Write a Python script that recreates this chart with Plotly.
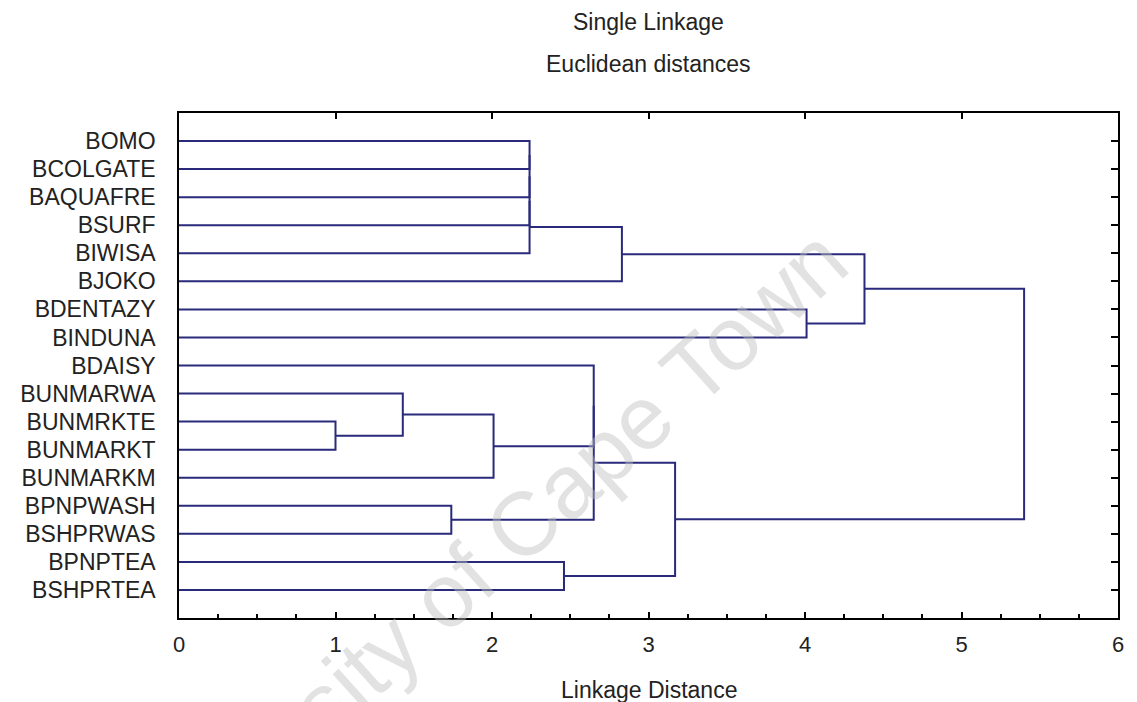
import plotly.graph_objects as go

# ---- data -------------------------------------------------------------
labels = ["BOMO", "BCOLGATE", "BAQUAFRE", "BSURF", "BIWISA", "BJOKO",
          "BDENTAZY", "BINDUNA", "BDAISY", "BUNMARWA", "BUNMRKTE",
          "BUNMARKT", "BUNMARKM", "BPNPWASH", "BSHPRWAS", "BPNPTEA",
          "BSHPRTEA"]

# merges (node ids: leaves 0..16, new clusters 17..32 in order)
merge_left = [10, 9, 13, 18, 0, 21, 22, 23, 15, 8, 26, 24, 27, 6, 28, 31]
merge_right = [11, 17, 14, 12, 1, 2, 3, 4, 16, 20, 19, 5, 25, 7, 30, 29]
merge_dist = [1.00, 1.43, 1.74, 2.01, 2.24, 2.24, 2.24, 2.24, 2.46, 2.65,
              2.65, 2.83, 3.17, 4.01, 4.38, 5.40]

x_ticks = [0, 1, 2, 3, 4, 5, 6]

title1 = "Single Linkage"
title2 = "Euclidean distances"
x_title = "Linkage Distance"
watermark = "University of Cape Town"

# ---- build dendrogram path ------------------------------------------
n = len(labels)
node_x = [0.0] * n
node_y = [float(i + 1) for i in range(n)]
xs, ys = [], []
for l, r, d in zip(merge_left, merge_right, merge_dist):
    xl, yl = node_x[l], node_y[l]
    xr, yr = node_x[r], node_y[r]
    xs += [xl, d, d, xr, None]
    ys += [yl, yl, yr, yr, None]
    node_x.append(d)
    node_y.append((yl + yr) / 2.0)

LINE = "#2a2a7c"
FONT = "Liberation Sans, Arial, sans-serif"
TXT = "#222222"

fig = go.Figure()
fig.add_trace(go.Scatter(x=xs, y=ys, mode="lines",
                         line=dict(color=LINE, width=2),
                         hoverinfo="skip", showlegend=False))
# invisible trace to activate the mirror axes (top / right ticks)
fig.add_trace(go.Scatter(x=[0], y=[1], mode="markers", marker=dict(opacity=0),
                         xaxis="x2", yaxis="y2", hoverinfo="skip",
                         showlegend=False))

fig.update_layout(
    width=1129, height=694,
    margin=dict(l=167, r=19, t=105, b=84),
    paper_bgcolor="white", plot_bgcolor="white",
    font=dict(family=FONT, color=TXT),
    xaxis=dict(range=[0, 6], tickvals=x_ticks, ticks="inside", ticklen=6,
               tickcolor="black", tickwidth=1.5,
               minor=dict(dtick=0.25, ticks="inside", ticklen=4,
                          tickcolor="black", showgrid=False),
               showgrid=False, zeroline=False, showline=True, mirror=True,
               linecolor="black", linewidth=1.5,
               tickfont=dict(size=22, family=FONT, color=TXT),
               ticklabelstandoff=6),
    yaxis=dict(range=[18, 0], tickvals=list(range(1, n + 1)), ticktext=labels,
               ticks="", showgrid=False, zeroline=False, showline=True,
               mirror=True, linecolor="black", linewidth=1.5,
               tickfont=dict(size=23, family=FONT, color=TXT),
               ticklabelstandoff=17),
    xaxis2=dict(range=[0, 6], overlaying="x", side="top",
                tickvals=[1, 2, 3, 4, 5], ticks="inside", ticklen=6,
                tickcolor="black", tickwidth=1.5, showticklabels=False,
                showgrid=False, zeroline=False, showline=False),
    yaxis2=dict(range=[18, 0], overlaying="y", side="right",
                tickvals=list(range(1, n + 1)), ticks="inside", ticklen=7,
                tickcolor="black", tickwidth=1.5, showticklabels=False,
                showgrid=False, zeroline=False, showline=False),
    showlegend=False,
)

fig.add_annotation(text=title1, xref="paper", yref="paper", x=0.5, y=1.180,
                   xanchor="center", yanchor="middle", showarrow=False,
                   font=dict(size=23, family=FONT, color=TXT))
fig.add_annotation(text=title2, xref="paper", yref="paper", x=0.5, y=1.097,
                   xanchor="center", yanchor="middle", showarrow=False,
                   font=dict(size=23, family=FONT, color=TXT))
fig.add_annotation(text=x_title, xref="paper", yref="paper", x=0.5,
                   y=-0.1426, xanchor="center", yanchor="middle",
                   showarrow=False,
                   font=dict(size=23, family=FONT, color=TXT))
fig.add_annotation(text=watermark, xref="paper", yref="paper", x=0.313,
                   y=0.095, xanchor="center", yanchor="middle",
                   showarrow=False, textangle=-42,
                   font=dict(size=90, family=FONT,
                             color="rgba(190,190,190,0.45)"))

fig.write_html("out.html")
